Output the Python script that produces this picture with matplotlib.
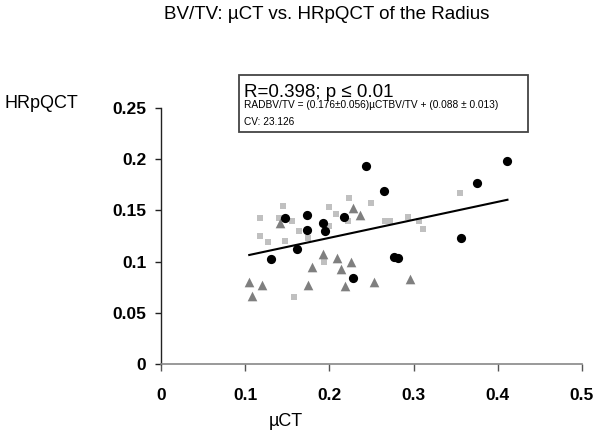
import matplotlib
matplotlib.use("Agg")
import numpy as np
import matplotlib.pyplot as plt
from matplotlib.patches import Rectangle

plt.rcParams['font.family'] = ['Liberation Sans', 'DejaVu Sans']

# puntos negros (circulos)
circ_x = [0.244, 0.265, 0.1475, 0.173, 0.192, 0.174, 0.195, 0.217, 0.162, 0.131,
          0.2765, 0.281, 0.228, 0.3565, 0.375, 0.4115]
circ_y = [0.193, 0.169, 0.143, 0.1455, 0.138, 0.131, 0.1295, 0.144, 0.112, 0.1025,
          0.1045, 0.1035, 0.0843, 0.1227, 0.1768, 0.198]

# triangulos gris oscuro
tri_x = [0.142, 0.228, 0.237, 0.193, 0.209, 0.226, 0.1795, 0.2144, 0.105, 0.1205,
         0.175, 0.219, 0.253, 0.296, 0.108]
tri_y = [0.1377, 0.152, 0.146, 0.107, 0.104, 0.0996, 0.0947, 0.0924, 0.0804, 0.0774,
         0.0774, 0.0765, 0.0804, 0.083, 0.0664]

# cuadrados gris claro
sq_x = [0.1173, 0.1455, 0.1407, 0.156, 0.1637, 0.118, 0.127, 0.147, 0.175, 0.1997,
        0.2076, 0.1993, 0.224, 0.222, 0.249, 0.266, 0.2725, 0.2935, 0.307, 0.3118,
        0.3553, 0.1938, 0.158]
sq_y = [0.1422, 0.1546, 0.1422, 0.140, 0.130, 0.125, 0.1188, 0.1204, 0.1227, 0.153,
        0.1465, 0.1344, 0.1624, 0.140, 0.1575, 0.1397, 0.1393, 0.1438, 0.1393, 0.1315,
        0.167, 0.0996, 0.0657]

# recta de regresion
pendiente = 0.176
intercepto = 0.088

x_ticks = [0, 0.1, 0.2, 0.3, 0.4, 0.5]
y_ticks = [0, 0.05, 0.1, 0.15, 0.2, 0.25]

fig = plt.figure(figsize=(6, 4.41), dpi=100)
ax = fig.add_axes([0.268, 0.1746, 0.702, 0.5804])

ax.scatter(sq_x, sq_y, marker='s', s=20, color='#c0c0c0', linewidths=0, zorder=2)
ax.scatter(tri_x, tri_y, marker='^', s=48, color='#7f7f7f', linewidths=0, zorder=3)
ax.scatter(circ_x, circ_y, marker='o', s=44, color='black', linewidths=0, zorder=4)

todos_x = np.array(circ_x + tri_x + sq_x)
lx = np.array([todos_x.min(), todos_x.max()])
ax.plot(lx, pendiente * lx + intercepto, color='black', lw=1.5, zorder=5)

ax.set_xlim(0, 0.5)
ax.set_ylim(0, 0.25)
ax.set_xticks(x_ticks)
ax.set_yticks(y_ticks)
ax.set_xticklabels([f'{t:g}' for t in x_ticks], fontweight='bold', fontsize=12.5)
ax.set_yticklabels([f'{t:g}' for t in y_ticks], fontweight='bold', fontsize=12.5)
ax.spines['top'].set_visible(False)
ax.spines['right'].set_visible(False)
ax.spines['bottom'].set_color('#888888')
ax.spines['left'].set_color('#222222')
ax.spines['bottom'].set_linewidth(1.2)
ax.spines['left'].set_linewidth(1.0)
ax.tick_params(axis='x', length=5, width=1, color='#555555', pad=12)
ax.tick_params(axis='y', length=4.5, width=1, color='#222222', pad=6)

fig.text(0.545, 0.968, 'BV/TV: µCT vs. HRpQCT of the Radius', ha='center', va='center', fontsize=13.5)
fig.text(0.008, 0.755, 'HRpQCT', ha='left', va='baseline', fontsize=13)
fig.text(0.477, 0.035, 'µCT', ha='center', va='baseline', fontsize=13)

# recuadro con estadisticas
fig.patches.append(Rectangle((0.398, 0.7007), 0.482, 0.1293, transform=fig.transFigure,
                             fill=False, edgecolor='#444444', lw=1.3))
fig.text(0.406, 0.7795, 'R=0.398; p ≤ 0.01', ha='left', va='baseline', fontsize=13.5)
fig.text(0.406, 0.7545, 'RADBV/TV = (0.176±0.056)µCTBV/TV + (0.088 ± 0.013)',
         ha='left', va='baseline', fontsize=7.3)
fig.text(0.406, 0.7165, 'CV: 23.126', ha='left', va='baseline', fontsize=7.3)

fig.savefig('out.png', dpi=100)
